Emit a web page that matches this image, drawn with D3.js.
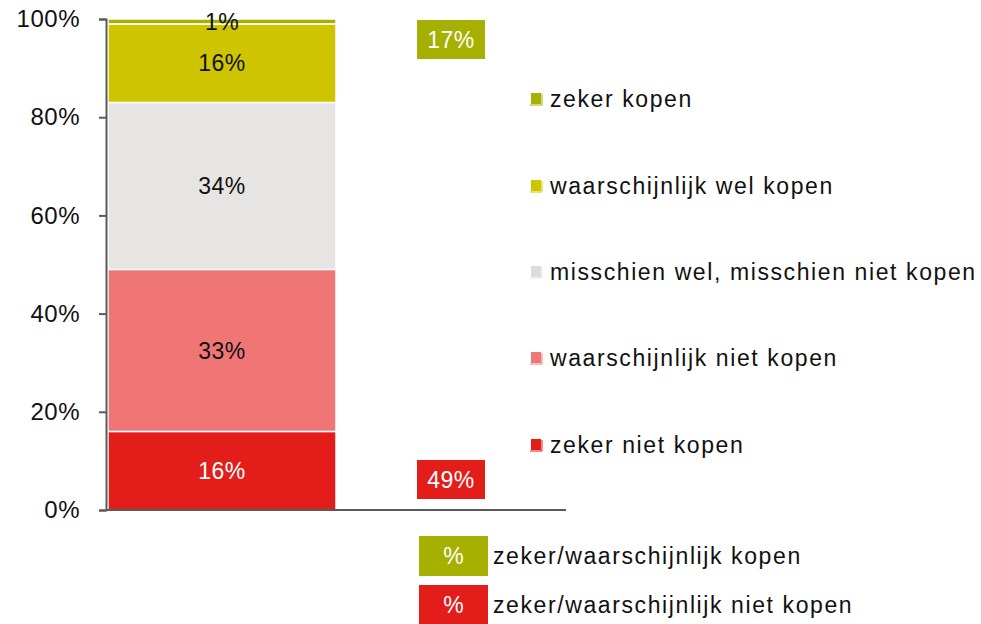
<!DOCTYPE html>
<html>
<head>
<meta charset="utf-8">
<script src="https://cdn.jsdelivr.net/npm/d3@7/dist/d3.min.js"></script>
<style>
  html, body { margin: 0; padding: 0; background: #fff; }
  svg { display: block; font-family: "Liberation Sans", Arial, sans-serif; }
</style>
</head>
<body>
<svg id="chart" width="981" height="624"></svg>
<script>
// Stacked answer shares (bottom to top), in percent
const categories = ["zeker niet kopen", "waarschijnlijk niet kopen", "misschien wel, misschien niet kopen", "waarschijnlijk wel kopen", "zeker kopen"];
const values = [16, 33, 34, 16, 1];
const colors = ["#e21d1a", "#f07676", "#e6e5e3", "#cfc400", "#a5b000"];
const labelColors = ["#ffffff", "#111111", "#111111", "#111111", "#111111"];
const yTicks = [0, 20, 40, 60, 80, 100];

// Summary boxes: combined buy / not buy
const summaryLabels = ["17%", "49%"];
const summaryValues = [17, 49];
const summaryColors = ["#a5b000", "#e21d1a"];
const bottomLegend = ["zeker/waarschijnlijk kopen", "zeker/waarschijnlijk niet kopen"];

const FS = 23;
const svg = d3.select("#chart");
const y = d3.scaleLinear().domain([0, 100]).range([510, 19]);

// Stack segments
let acc = 0;
const segs = values.map((v, i) => { const s = { v, i, y0: acc, y1: acc + v }; acc += v; return s; });

const barX = 108, barW = 228;
svg.append("g").selectAll("rect").data(segs).join("rect")
  .attr("x", barX).attr("width", barW)
  .attr("y", d => y(d.y1))
  .attr("height", d => y(d.y0) - y(d.y1))
  .attr("fill", d => colors[d.i])
  .attr("stroke", "#fff").attr("stroke-width", 1.5);

svg.append("g").selectAll("text").data(segs).join("text")
  .attr("x", barX + barW / 2)
  .attr("y", d => d.v < 3 ? y(d.y1) + 3 : y((d.y0 + d.y1) / 2))
  .attr("dy", "0.36em")
  .attr("text-anchor", "middle")
  .attr("font-size", FS)
  .attr("letter-spacing", 0.5)
  .attr("fill", d => labelColors[d.i])
  .text(d => d.v + "%");

// Axis
const axis = d3.axisLeft(y).tickValues(yTicks).tickFormat(d => d + "%").tickSize(7).tickPadding(19);
const gAxis = svg.append("g").attr("transform", "translate(106,0)").call(axis);
gAxis.select(".domain").attr("stroke", "#5a5a5a").attr("stroke-width", 2);
gAxis.selectAll(".tick line").attr("stroke", "#5a5a5a").attr("stroke-width", 2);
gAxis.selectAll(".tick text").attr("font-size", 24).attr("letter-spacing", 0.5).attr("fill", "#111").attr("font-family", "Liberation Sans, Arial, sans-serif");

// Baseline
svg.append("line").attr("x1", 106).attr("x2", 566).attr("y1", y(0)).attr("y2", y(0))
  .attr("stroke", "#5a5a5a").attr("stroke-width", 2);

// Summary boxes
const boxY = [39.5, 479.5];
summaryLabels.forEach((lab, i) => {
  const g = svg.append("g").attr("transform", `translate(451,${boxY[i]})`);
  g.append("rect").attr("x", -34).attr("y", -19.5).attr("width", 68).attr("height", 39).attr("fill", summaryColors[i]);
  g.append("text").attr("text-anchor", "middle").attr("dy", "0.36em").attr("font-size", FS).attr("letter-spacing", 0.5).attr("fill", "#fff").text(lab);
});

// Legend (top to bottom)
const legendY = [99, 186, 272, 358, 445];
const legendItems = categories.map((c, i) => ({ c, i })).reverse();
const lg = svg.append("g").selectAll("g").data(legendItems).join("g")
  .attr("transform", (d, k) => `translate(531,${legendY[k]})`);
lg.append("path").attr("d", "M-1,6 H11 V-5").attr("fill", "none").attr("stroke", d => colors[d.i]).attr("stroke-width", 1);
lg.append("rect").attr("x", 0).attr("y", -6).attr("width", 10).attr("height", 11).attr("fill", d => d.i === 2 ? "#dcdcdc" : colors[d.i]);
lg.append("text").attr("x", 19).attr("dy", "0.36em").attr("font-size", FS).attr("letter-spacing", 1.6).attr("fill", "#111").text(d => d.c);

// Bottom key
const keyY = [556, 605];
bottomLegend.forEach((lab, i) => {
  const g = svg.append("g").attr("transform", `translate(419,${keyY[i]})`);
  g.append("rect").attr("x", 0).attr("y", -20).attr("width", 69).attr("height", 40).attr("fill", summaryColors[i]);
  g.append("text").attr("x", 34.5).attr("text-anchor", "middle").attr("dy", "0.36em").attr("font-size", FS).attr("fill", "#fff").text("%");
  g.append("text").attr("x", 74).attr("dy", "0.36em").attr("font-size", FS).attr("letter-spacing", 1.6).attr("fill", "#111").text(lab);
});
</script>
</body>
</html>
